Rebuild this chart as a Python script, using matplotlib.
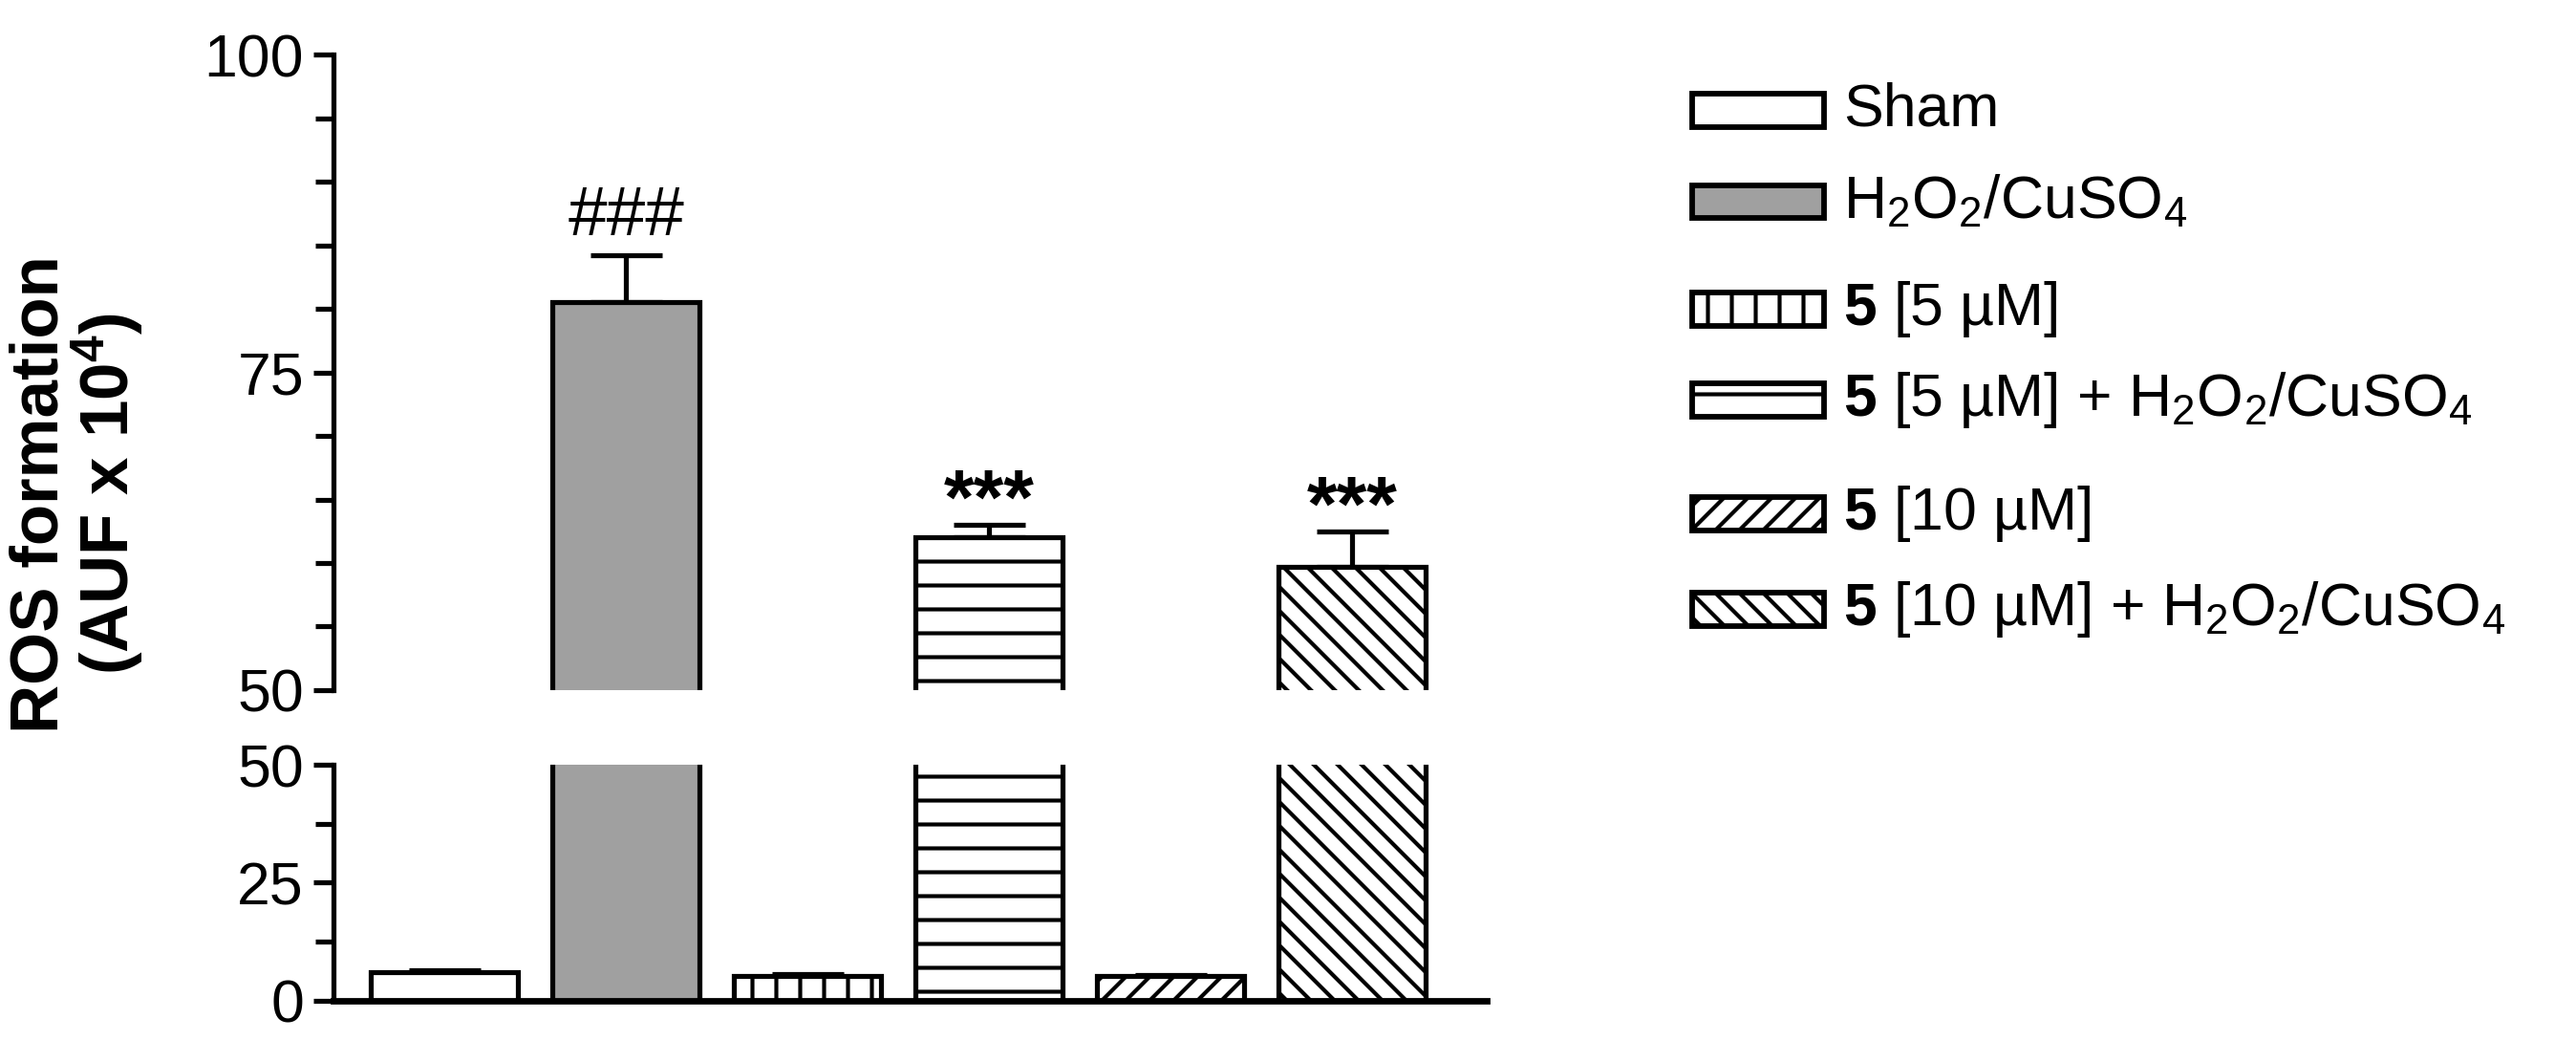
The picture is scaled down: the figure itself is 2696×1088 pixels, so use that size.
import matplotlib
matplotlib.use("Agg")
import matplotlib.pyplot as plt
from matplotlib.patches import Rectangle
import numpy as np

# ---------------- data ----------------
categories = ["Sham", "H2O2/CuSO4", "5 [5 uM]", "5 [5 uM] + H2O2/CuSO4",
              "5 [10 uM]", "5 [10 uM] + H2O2/CuSO4"]
legend_labels = [r"Sham",
                 r"H$_2$O$_2$/CuSO$_4$",
                 r"$\mathbf{5}$ [5 µM]",
                 r"$\mathbf{5}$ [5 µM] + H$_2$O$_2$/CuSO$_4$",
                 r"$\mathbf{5}$ [10 µM]",
                 r"$\mathbf{5}$ [10 µM] + H$_2$O$_2$/CuSO$_4$"]
means = [6.1, 80.5, 5.3, 62.0, 5.2, 59.7]
sem = [0.4, 3.7, 0.3, 1.0, 0.3, 2.8]
annotations = ["", "###", "", "***", "", "***"]
top_ticks = [50, 75, 100]
bottom_ticks = [0, 25, 50]

# ---------------- styles ----------------
fills = ["white", "#a0a0a0", "white", "white", "white", "white"]
hatches = [None, None, "|", "-", "//", "\\\\"]

SANS = ["Liberation Sans", "DejaVu Sans"]
plt.rcParams["font.family"] = SANS
plt.rcParams["mathtext.fontset"] = "custom"
plt.rcParams["mathtext.rm"] = "Liberation Sans"
plt.rcParams["mathtext.bf"] = "Liberation Sans:bold"
plt.rcParams["mathtext.default"] = "regular"
plt.rcParams["hatch.linewidth"] = 2.0
plt.rcParams["hatch.color"] = "black"

DPI = 150
fig = plt.figure(figsize=(2696 / DPI, 1088 / DPI), dpi=DPI)

left, width = 0.1295, 0.4477
ax_top = fig.add_axes([left, 0.3364, width, 0.6112])
ax_bot = fig.add_axes([left, 0.0377, width, 0.2270])

x = np.arange(len(categories))
xlim = (-0.61, 5.74)
LW = 2.5
tick_fs = 30

for ax in (ax_top, ax_bot):
    ax.bar(x, means, width=0.81, color=fills, edgecolor="black",
           linewidth=LW, hatch=hatches, zorder=2)
    ax.errorbar(x, means, yerr=[np.zeros(len(sem)), sem], fmt="none",
                ecolor="black", elinewidth=LW, capsize=18, capthick=LW,
                zorder=1)
    ax.set_xlim(*xlim)
    ax.set_xticks([])
    for s in ("top", "right"):
        ax.spines[s].set_visible(False)
    ax.spines["left"].set_linewidth(LW)
    ax.tick_params(axis="y", which="major", length=10, width=LW,
                   labelsize=tick_fs, pad=5)
    ax.tick_params(axis="y", which="minor", length=9, width=LW)

ax_top.set_ylim(50, 100)
ax_top.set_yticks(top_ticks)
ax_top.set_yticks(np.arange(55, 100, 5), minor=True)
ax_top.spines["bottom"].set_visible(False)

ax_bot.set_ylim(0, 50)
ax_bot.set_yticks(bottom_ticks)
ax_bot.set_yticks([12.5, 37.5], minor=True)
ax_bot.spines["bottom"].set_linewidth(LW * 1.3)

# annotations
for xi, m, e, a in zip(x, means, sem, annotations):
    if a == "###":
        ax_top.text(xi, m + e + 1.6, a, ha="center", va="baseline",
                    fontsize=35)
    elif a:
        ax_top.text(xi, m + e + 0.1, a, ha="center", va="baseline",
                    fontsize=39, fontweight="bold")

# y label
fig.text(0.030, 0.525, "ROS formation\n(AUF x 10$^4$)", rotation=90,
         ha="center", va="center", fontsize=34, fontweight="bold",
         linespacing=0.95)

# legend
lax = fig.add_axes([0, 0, 1, 1], facecolor="none")
lax.set_xlim(0, 1)
lax.set_ylim(0, 1)
lax.axis("off")
row_y = [0.894, 0.806, 0.703, 0.615, 0.506, 0.414]
px0, pw, ph = 0.657, 0.051, 0.032
for yc, f, h, lab in zip(row_y, fills, hatches, legend_labels):
    lax.add_patch(Rectangle((px0, yc - ph / 2), pw, ph, facecolor=f,
                            edgecolor="black", linewidth=2.8, hatch=h))
    lax.text(0.7156, yc, lab, ha="left", va="center", fontsize=30)

fig.savefig("out.png", dpi=DPI)
